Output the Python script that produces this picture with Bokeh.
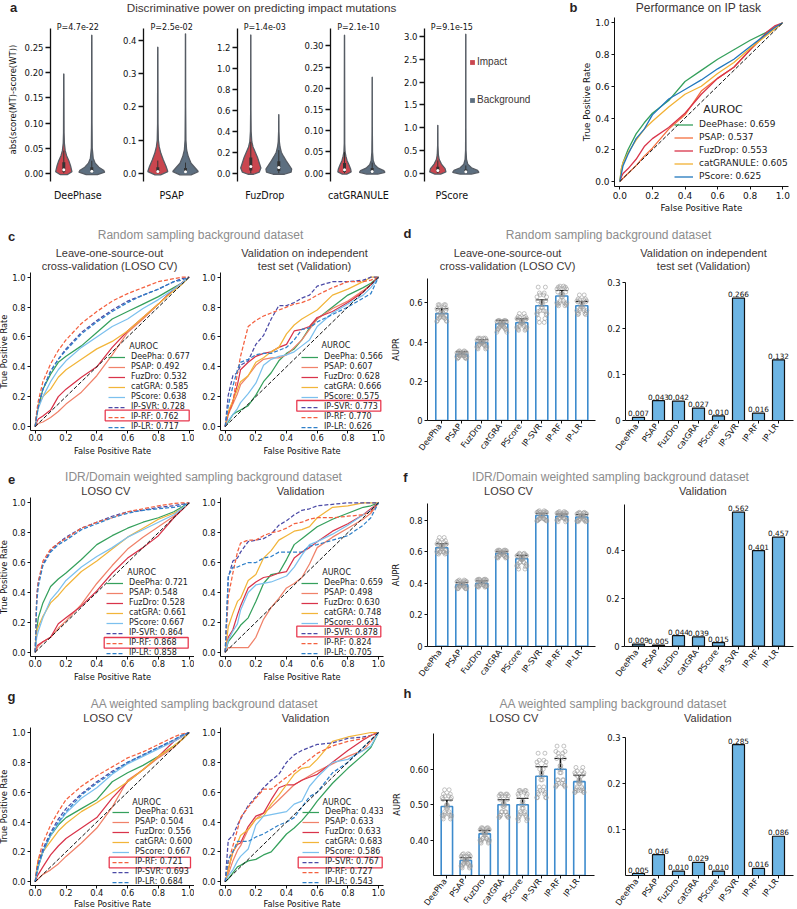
from math import pi
from bokeh.core.properties import value
from bokeh.embed import file_html
from bokeh.resources import INLINE
from bokeh.layouts import row, column
from bokeh.plotting import figure
from bokeh.models import (Range1d, FixedTicker, Label, LabelSet, Legend, LegendItem, BoxAnnotation,
                          ColumnDataSource, Whisker, TeeHead, LinearAxis)

# ---------------- DATA ----------------
VIOLIN_NAMES = ["DeePhase", "PSAP", "FuzDrop", "catGRANULE", "PScore"]
VIOLIN_P = ["P=4.7e-22", "P=2.5e-02", "P=1.4e-03", "P=2.1e-10", "P=9.1e-15"]
VIOLIN_TICKS = [[0, .05, .10, .15, .20, .25], [0, .1, .2, .3, .4], [0, .2, .4, .6, .8, 1.0, 1.2],
                [0, .05, .10, .15, .20, .25, .30], [0, .5, 1.0, 1.5, 2.0, 2.5, 3.0]]
VIOLIN_TICK_LABELS = [["0.00", "0.05", "0.10", "0.15", "0.20", "0.25"], ["0.0", "0.1", "0.2", "0.3", "0.4"],
                      ["0.0", "0.2", "0.4", "0.6", "0.8", "1.0", "1.2"],
                      ["0.00", "0.05", "0.10", "0.15", "0.20", "0.25", "0.30"],
                      ["0.0", "0.5", "1.0", "1.5", "2.0", "2.5", "3.0"]]
# y values / half widths of the violins (impact, background)
V1_IMP_Y = [-.003, .003, .015, .025, .035, .045, .06, .08, .198]
V1_IMP_W = [.12, .29, .24, .18, .10, .05, .02, .01, .004]
V1_BG_Y = [-.003, .002, .006, .012, .02, .03, .05, .1, .275]
V1_BG_W = [.2, .46, .42, .25, .12, .05, .015, .008, .004]
V2_IMP_Y = [-.005, .005, .02, .04, .06, .08, .1, .15, .38]
V2_IMP_W = [.1, .36, .3, .2, .11, .05, .02, .008, .004]
V2_BG_Y = [-.005, .005, .015, .03, .05, .07, .1, .2, .42]
V2_BG_W = [.2, .46, .36, .2, .1, .04, .015, .006, .003]
V3_IMP_Y = [-.01, .01, .05, .1, .15, .2, .25, .3, .4, .6, 1.32]
V3_IMP_W = [.1, .3, .36, .3, .24, .16, .08, .035, .012, .005, .003]
V3_BG_Y = [-.01, .01, .04, .08, .12, .16, .2, .25, .3, .4, .56]
V3_BG_W = [.2, .44, .46, .36, .26, .17, .09, .045, .02, .006, .003]
V4_IMP_Y = [-.002, .003, .01, .02, .03, .04, .05, .07, .325]
V4_IMP_W = [.08, .24, .22, .16, .09, .05, .02, .008, .003]
V4_BG_Y = [-.002, .002, .006, .012, .02, .03, .05, .1, .226]
V4_BG_W = [.2, .46, .42, .22, .09, .035, .012, .005, .003]
V5_IMP_Y = [-.02, .03, .1, .2, .3, .4, .6, 1.05]
V5_IMP_W = [.1, .29, .26, .13, .05, .02, .006, .003]
V5_BG_Y = [-.02, .02, .06, .12, .2, .3, .5, 1.0, 3.05]
V5_BG_W = [.2, .47, .42, .2, .07, .025, .008, .004, .003]
VIOLIN_PROFILES = [(V1_IMP_Y, V1_IMP_W, V1_BG_Y, V1_BG_W), (V2_IMP_Y, V2_IMP_W, V2_BG_Y, V2_BG_W),
                   (V3_IMP_Y, V3_IMP_W, V3_BG_Y, V3_BG_W), (V4_IMP_Y, V4_IMP_W, V4_BG_Y, V4_BG_W),
                   (V5_IMP_Y, V5_IMP_W, V5_BG_Y, V5_BG_W)]
# q1, median, q3, whisker (impact, background)
VIOLIN_BOX = [((.003, .007, .022, .045), (.002, .004, .012, .025)),
              ((.002, .005, .018, .038), (.001, .004, .016, .032)),
              ((.025, .065, .15, .3), (.02, .055, .115, .22)),
              ((.003, .008, .024, .05), (.001, .004, .012, .025)),
              ((.02, .06, .14, .28), (.01, .03, .08, .17))]

F = [0, .01, .02, .05, .1, .15, .2, .3, .4, .5, .6, .7, .8, .9, .95, 1]
B_NAMES = ["DeePhase: 0.659", "PSAP: 0.537", "FuzDrop: 0.553", "catGRANULE: 0.605", "PScore: 0.625"]
B_DEEPHASE = [0, .08, .12, .2, .3, .37, .43, .51, .63, .7, .77, .83, .89, .94, .97, 1]
B_PSAP = [0, .01, .02, .05, .1, .16, .21, .33, .42, .57, .65, .72, .83, .93, .97, 1]
B_FUZDROP = [0, .03, .05, .08, .14, .22, .27, .34, .43, .55, .65, .72, .83, .94, .98, 1]
B_CATGRANULE = [0, .08, .12, .18, .26, .33, .38, .47, .55, .6, .68, .75, .84, .92, .96, 1]
B_PSCORE = [0, .05, .1, .17, .27, .33, .42, .52, .58, .64, .71, .77, .85, .93, .97, 1]

C1_NAMES = ["DeePha: 0.677", "PSAP: 0.492", "FuzDro: 0.532", "catGRA: 0.585", "PScore: 0.638", "IP-SVR: 0.728", "IP-RF: 0.762", "IP-LR: 0.717"]
C1_DEEPHA = [0, .08, .13, .25, .35, .43, .47, .54, .63, .72, .77, .82, .87, .93, .96, 1]
C1_PSAP = [0, .01, .02, .03, .06, .10, .15, .23, .34, .48, .63, .72, .82, .92, .96, 1]
C1_FUZDRO = [0, .03, .05, .07, .11, .2, .25, .33, .40, .53, .64, .73, .82, .92, .96, 1]
C1_CATGRA = [0, .08, .14, .20, .25, .33, .38, .45, .52, .57, .64, .73, .82, .91, .95, 1]
C1_PSCORE = [0, .07, .12, .20, .30, .38, .44, .53, .60, .67, .72, .79, .85, .92, .96, 1]
C1_SVR = [0, .08, .14, .25, .37, .45, .52, .63, .71, .78, .84, .88, .92, .97, .99, 1]
C1_RF = [0, .1, .17, .3, .42, .51, .58, .69, .77, .84, .89, .93, .97, .99, 1, 1]
C1_LR = [0, .07, .13, .25, .37, .45, .51, .62, .7, .77, .83, .88, .92, .97, .98, 1]

E1_NAMES = ["DeePha: 0.721", "PSAP: 0.548", "FuzDro: 0.528", "catGRA: 0.661", "PScore: 0.667", "IP-SVR: 0.864", "IP-RF: 0.868", "IP-LR: 0.858"]
E1_DEEPHA = [0, .15, .23, .33, .44, .49, .53, .62, .72, .78, .83, .87, .9, .94, .97, 1]
E1_PSAP = [0, .02, .04, .07, .1, .16, .21, .32, .46, .58, .69, .77, .84, .91, .95, 1]
E1_FUZDRO = [0, .04, .05, .07, .1, .19, .23, .31, .41, .53, .63, .7, .78, .9, .95, 1]
E1_CATGRA = [0, .14, .17, .24, .33, .38, .44, .54, .61, .69, .77, .83, .89, .93, .96, 1]
E1_PSCORE = [0, .1, .14, .23, .35, .41, .48, .57, .64, .7, .77, .82, .87, .92, .96, 1]
E1_SVR = [0, .38, .47, .59, .68, .73, .77, .83, .87, .91, .94, .95, .97, .98, .99, 1]
E1_RF = [0, .37, .47, .61, .69, .73, .76, .83, .87, .9, .94, .96, .98, .995, 1, 1]
E1_LR = [0, .33, .44, .58, .67, .72, .75, .82, .86, .9, .93, .95, .96, .97, .98, 1]

G1_NAMES = ["DeePha: 0.631", "PSAP: 0.504", "FuzDro: 0.556", "catGRA: 0.600", "PScore: 0.667", "IP-RF: 0.721", "IP-SVR: 0.693", "IP-LR: 0.684"]
G1_DEEPHA = [0, .05, .1, .2, .31, .38, .43, .49, .55, .67, .73, .78, .84, .91, .95, 1]
G1_PSAP = [0, .01, .02, .05, .08, .12, .17, .26, .36, .5, .68, .75, .83, .9, .95, 1]
G1_FUZDRO = [0, .03, .05, .1, .18, .24, .29, .36, .43, .56, .67, .75, .84, .94, .97, 1]
G1_CATGRA = [0, .09, .15, .2, .27, .34, .39, .47, .53, .6, .67, .75, .84, .91, .95, 1]
G1_PSCORE = [0, .06, .1, .2, .31, .39, .46, .56, .63, .72, .79, .84, .89, .94, .97, 1]
G1_RF = [0, .09, .15, .26, .38, .47, .55, .64, .71, .77, .83, .87, .92, .97, .99, 1]
G1_SVR = [0, .07, .12, .22, .33, .42, .49, .59, .67, .74, .8, .85, .9, .95, .98, 1]
G1_LR = [0, .06, .11, .2, .32, .4, .47, .58, .66, .73, .8, .85, .9, .95, .98, 1]

V = [0, .02, .05, .08, .1, .15, .2, .25, .3, .35, .4, .45, .5, .55, .6, .7, .8, .9, .95, 1]
C2_NAMES = ["DeePha: 0.566", "PSAP: 0.607", "FuzDro: 0.628", "catGRA: 0.666", "PScore: 0.575", "IP-SVR: 0.773", "IP-RF: 0.770", "IP-LR: 0.626"]
C2_DEEPHA = [0, .03, .08, .10, .11, .14, .21, .30, .36, .44, .49, .52, .58, .66, .72, .80, .88, .93, .96, 1]
C2_PSAP = [0, .08, .15, .22, .28, .34, .41, .45, .46, .46, .48, .53, .58, .65, .72, .79, .84, .91, .95, 1]
C2_FUZDRO = [0, .09, .17, .28, .38, .43, .47, .49, .50, .53, .55, .64, .65, .67, .73, .77, .83, .90, .95, 1]
C2_CATGRA = [0, .10, .17, .25, .30, .34, .43, .46, .50, .53, .62, .68, .72, .75, .78, .88, .92, .97, 1, 1]
C2_PSCORE = [0, .04, .08, .12, .16, .22, .29, .41, .45, .47, .48, .50, .54, .58, .67, .76, .82, .88, .93, 1]
C2_SVR = [0, .21, .34, .36, .41, .44, .55, .61, .72, .81, .81, .83, .86, .88, .94, .97, .97, .98, 1, 1]
C2_RF = [0, .08, .16, .36, .47, .67, .71, .74, .76, .78, .80, .82, .83, .85, .88, .93, .97, .97, .98, 1]
C2_LR = [0, .14, .27, .38, .43, .45, .48, .49, .49, .51, .53, .58, .65, .66, .7, .75, .8, .86, .89, 1]

E2_NAMES = ["DeePha: 0.659", "PSAP: 0.498", "FuzDro: 0.630", "catGRA: 0.748", "PScore: 0.631", "IP-SVR: 0.878", "IP-RF: 0.824", "IP-LR: 0.705"]
E2_DEEPHA = [0, .07, .11, .15, .18, .23, .34, .46, .52, .53, .62, .72, .76, .80, .84, .89, .93, .97, .98, 1]
E2_PSAP = [0, .03, .03, .03, .03, .03, .1, .22, .3, .36, .43, .46, .5, .59, .7, .77, .83, .89, .93, 1]
E2_FUZDRO = [0, .1, .15, .25, .31, .43, .47, .5, .51, .53, .54, .63, .67, .7, .74, .81, .86, .92, .96, 1]
E2_CATGRA = [0, .17, .26, .34, .36, .48, .52, .63, .68, .75, .78, .81, .82, .84, .9, .97, .98, 1, 1, 1]
E2_PSCORE = [0, .08, .14, .19, .28, .4, .45, .46, .47, .49, .51, .57, .65, .72, .74, .79, .85, .92, .95, 1]
E2_SVR = [0, .5, .61, .63, .67, .74, .75, .76, .79, .85, .88, .92, .95, .96, .98, .99, 1, 1, 1, 1]
E2_RF = [0, .37, .53, .67, .73, .75, .75, .78, .8, .81, .83, .86, .87, .89, .9, .9, .91, .92, .94, 1]
E2_LR = [0, .51, .57, .57, .58, .6, .6, .63, .64, .67, .67, .67, .67, .71, .72, .75, .78, .85, .9, 1]

G2_NAMES = ["DeePha: 0.433", "PSAP: 0.633", "FuzDro: 0.633", "catGRA: 0.683", "PScore: 0.586", "IP-SVR: 0.767", "IP-RF: 0.727", "IP-LR: 0.543"]
G2_DEEPHA = [0, .02, .06, .1, .11, .14, .15, .18, .2, .26, .32, .36, .41, .47, .54, .66, .76, .85, .9, 1]
G2_PSAP = [0, .05, .14, .21, .24, .35, .42, .46, .5, .55, .6, .65, .68, .71, .74, .79, .84, .88, .94, 1]
G2_FUZDRO = [0, .08, .2, .25, .26, .37, .44, .46, .55, .63, .65, .65, .68, .7, .72, .8, .88, .95, .98, 1]
G2_CATGRA = [0, .08, .2, .26, .31, .35, .42, .44, .52, .58, .65, .72, .76, .77, .82, .94, .97, .99, 1, 1]
G2_PSCORE = [0, .04, .08, .14, .17, .22, .38, .44, .45, .46, .47, .52, .54, .64, .7, .8, .82, .88, .91, 1]
G2_SVR = [0, .28, .31, .38, .42, .51, .57, .63, .68, .72, .8, .85, .88, .9, .92, .93, .96, .97, .98, 1]
G2_RF = [0, .13, .24, .35, .43, .5, .56, .62, .62, .66, .7, .74, .78, .82, .86, .91, .94, .96, .98, 1]
G2_LR = [0, .15, .2, .27, .27, .27, .3, .32, .35, .38, .4, .43, .5, .57, .6, .73, .8, .9, .95, 1]

ROC_TICKS = [0, .2, .4, .6, .8, 1.0]
ROC_LABELS = ["0.0", "0.2", "0.4", "0.6", "0.8", "1.0"]

BAR_NAMES = ["DeePha", "PSAP", "FuzDro", "catGRA", "PScore", "IP-SVR", "IP-RF", "IP-LR"]
D_LOSO = [.545, .338, .397, .493, .498, .585, .635, .585]
D_LOSO_ERR = [.025, .012, .015, .018, .02, .03, .028, .022]
F_LOSO = [.625, .39, .4, .59, .555, .83, .825, .82]
F_LOSO_ERR = [.025, .015, .015, .012, .022, .014, .014, .016]
H_LOSO = [.495, .343, .418, .50, .50, .58, .60, .565]
H_LOSO_ERR = [.018, .008, .01, .014, .018, .027, .03, .018]
D_VAL = [.007, .043, .042, .027, .010, .266, .016, .132]
F_VAL = [.009, .005, .044, .039, .015, .562, .401, .457]
H_VAL = [.005, .046, .010, .029, .010, .285, .016, .086]
JITTER = [-.22, .18, -.08, .24, -.16, .05, .12, -.25, .2, -.03, -.12, .09, .02, -.19]
D_POINTS = [[.51, .59, .53, .57, .52, .55, .58, .505, .56, .54, .59, .525, .565, .535],
            [.315, .35, .33, .345, .32, .34, .355, .325, .34, .335, .33, .35, .345, .32],
            [.37, .42, .39, .41, .38, .40, .415, .375, .405, .395, .385, .42, .40, .365],
            [.46, .51, .48, .505, .47, .495, .51, .45, .50, .49, .475, .505, .485, .465],
            [.47, .53, .49, .52, .46, .50, .545, .475, .515, .495, .48, .525, .505, .465],
            [.54, .68, .56, .63, .52, .59, .65, .545, .61, .575, .50, .64, .60, .555],
            [.59, .68, .61, .67, .585, .64, .675, .60, .655, .63, .60, .685, .645, .595],
            [.55, .62, .57, .61, .545, .59, .64, .56, .605, .58, .56, .615, .60, .54]]
F_POINTS = [[.59, .67, .60, .65, .585, .63, .69, .60, .645, .62, .595, .66, .635, .61],
            [.365, .415, .38, .41, .37, .39, .42, .375, .405, .395, .38, .41, .395, .365],
            [.38, .425, .39, .42, .375, .40, .425, .385, .415, .405, .385, .42, .41, .38],
            [.565, .61, .58, .605, .57, .59, .61, .565, .60, .595, .575, .605, .59, .56],
            [.52, .58, .535, .575, .49, .555, .59, .51, .57, .55, .53, .585, .56, .505],
            [.80, .855, .81, .85, .805, .83, .86, .795, .845, .825, .81, .85, .835, .80],
            [.80, .85, .815, .845, .81, .825, .855, .80, .84, .83, .81, .845, .835, .79],
            [.795, .845, .81, .84, .80, .82, .85, .795, .835, .825, .80, .845, .83, .79]]
H_POINTS = [[.465, .53, .475, .52, .47, .495, .542, .47, .515, .49, .48, .525, .50, .46],
            [.325, .36, .335, .355, .33, .345, .362, .328, .35, .34, .335, .355, .345, .322],
            [.395, .435, .405, .43, .40, .42, .435, .40, .428, .415, .405, .432, .42, .392],
            [.465, .53, .48, .525, .47, .50, .53, .465, .515, .495, .48, .525, .505, .47],
            [.455, .54, .475, .53, .47, .50, .54, .46, .525, .49, .48, .535, .51, .465],
            [.52, .645, .54, .62, .53, .58, .625, .52, .61, .57, .55, .60, .59, .535],
            [.555, .665, .56, .65, .57, .60, .645, .55, .63, .59, .57, .635, .61, .555],
            [.535, .605, .54, .59, .545, .565, .595, .535, .585, .56, .55, .58, .57, .54]]

# ---------------- STYLE ----------------
SANS = "DejaVu Sans"
ARIAL = "Liberation Sans"
C_GREEN, C_SALMON, C_RED, C_YELLOW, C_SKY = "#35a05c", "#f0826a", "#d9344a", "#f2b53a", "#7cc0ee"
C_INDIGO, C_ORANGE, C_BLUE = "#4b4aa6", "#f4603f", "#2f80c9"
C_IMPACT, C_BACKGROUND = "#c9464f", "#5d6f80"
DASH = "4 2"
LEFT = -6
LABEL_SHIFT = -.1


def panel(rect, frame, xm, ym):
    x0, x1, y0, y1 = rect
    fl, fr, ft, fb = frame
    xs = (xm[2] - xm[0]) / (xm[3] - xm[1])
    ys = (ym[2] - ym[0]) / (ym[3] - ym[1])
    X = lambda px: xm[0] + (px - xm[1]) * xs
    Y = lambda py: ym[0] + (py - ym[1]) * ys
    p = figure(width=x1 - x0, height=y1 - y0, x_range=Range1d(X(fl), X(fr)), y_range=Range1d(Y(fb), Y(ft)),
               min_border_left=fl - x0, min_border_right=x1 - fr, min_border_top=ft - y0, min_border_bottom=y1 - fb,
               output_backend="svg", toolbar_location=None, tools="", outline_line_color=None, title=None,
               frame_align=False)
    p.grid.visible = False
    return p, X, Y


def axis_style(ax, ticks, labels, size="8.4px", tick=3, lw=1.0, label=None, label_size="8.3px", standoff=2, lstand=2):
    ax.ticker = FixedTicker(ticks=list(ticks))
    ax.major_label_overrides = dict(zip(ticks, labels))
    ax.minor_tick_line_color = None
    ax.major_tick_out = tick
    ax.major_tick_in = 0
    ax.major_tick_line_width = lw
    ax.axis_line_width = lw
    ax.axis_line_color = "#111111"
    ax.major_tick_line_color = "#111111"
    ax.major_label_text_font = SANS
    ax.major_label_text_font_size = size
    ax.major_label_text_color = "#111111"
    ax.major_label_standoff = standoff
    if label:
        ax.axis_label = label
        ax.axis_label_text_font = SANS
        ax.axis_label_text_font_size = label_size
        ax.axis_label_text_font_style = "normal"
        ax.axis_label_text_color = "#111111"
        ax.axis_label_standoff = lstand


def text(p, x, y, s, size="8px", font=SANS, color="#111111", align="center", style="normal"):
    p.add_layout(Label(x=x, y=y, text=s, text_font=font, text_font_size=size, text_color=color,
                       text_align=align, text_baseline="middle", text_font_style=style))


def strip(y0, y1, items):
    p = figure(width=797 - LEFT, height=y1 - y0, x_range=Range1d(LEFT, 797), y_range=Range1d(y1, y0),
               x_axis_type=None, y_axis_type=None, min_border=0, min_border_left=0, min_border_right=0,
               min_border_top=0, min_border_bottom=0, output_backend="svg", toolbar_location=None, tools="",
               outline_line_color=None, title=None, frame_align=False)
    p.grid.visible = False
    for it in items:
        text(p, *it)
    return p


def violin_panel(i, rect, frame, c0, c1, v_top_px, top_val):
    yi, wi, yb, wb = VIOLIN_PROFILES[i]
    p, X, Y = panel(rect, frame, (0, c0, 1, c1), (0, 172.7, top_val, v_top_px))
    fills = []
    for c, ys, ws, col, box in ((0, yi, wi, C_IMPACT, VIOLIN_BOX[i][0]), (1, yb, wb, C_BACKGROUND, VIOLIN_BOX[i][1])):
        xs = [c - w for w in ws] + [c + w for w in reversed(ws)]
        yy = list(ys) + list(reversed(ys))
        fills.append(p.patch(xs, yy, fill_color=col, line_color=None))
        p.patch(xs, yy, fill_color=None, line_color="#565c64", line_width=1.3)
        p.segment([c], [0], [c], [box[3]], line_color="#333333", line_width=1)
        p.segment([c], [box[0]], [c], [box[2]], line_color="#333333", line_width=3)
        p.scatter([c], [box[1]], size=3, fill_color="white", line_color=None)
    axis_style(p.yaxis[0], VIOLIN_TICKS[i], VIOLIN_TICK_LABELS[i], size="8.5px", tick=5, lw=1.3,
               label="abs(score(MT)-score(WT))" if i == 0 else None, label_size="8.5px", lstand=4)
    p.yaxis[0].bounds = (Y(180.7), Y(27.7))
    ax = p.xaxis[0]
    axis_style(ax, [.5], [VIOLIN_NAMES[i]], size="9.6px", tick=0, standoff=8)
    ax.axis_line_color = None
    ax.major_tick_line_color = None
    text(p, X((c0 + c1) / 2), Y(27.3), VIOLIN_P[i])
    return p, fills


def roc_panel(rect, frame, x0px, x1px, y1px, y0px, xs, tprs, colors, dashes, names, lg_x, lg_y, title_at, box=None,
              lw=1.25, ylabel=True, glyph_w=17, lab_size="8px", tick_size="8.4px", lab_h=8, spacing=1, title_size="8px",
              ax_lab="8.3px", x_standoff=0, x_lstand=2):
    p, X, Y = panel(rect, frame, (0, x0px, 1, x1px), (0, y0px, 1, y1px))
    items = []
    for t, c, d, n in zip(tprs, colors, dashes, names):
        r = p.line(xs, t, line_color=c, line_width=lw, line_dash=d)
        items.append(LegendItem(label=n, renderers=[r]))
    p.line([0, 1], [0, 1], line_color="#111111", line_width=1.0, line_dash=DASH)
    lg = Legend(items=items, location=(lg_x, lg_y), orientation="vertical", label_text_font=SANS,
                label_text_font_size=lab_size, label_text_color="#222222", label_height=lab_h, glyph_height=lab_h,
                glyph_width=glyph_w, label_standoff=6, spacing=spacing, padding=0, margin=0, border_line_color=None,
                background_fill_alpha=0)
    p.add_layout(lg)
    text(p, X(title_at[0]), Y(title_at[1]), "AUROC", size=title_size, align="left", color="#222222")
    if box:
        p.add_layout(BoxAnnotation(left=X(box[0]), right=X(box[1]), top=Y(box[2]), bottom=Y(box[3]), fill_alpha=0,
                                   line_color="#e8394f", line_width=1.3, line_alpha=1))
    axis_style(p.xaxis[0], ROC_TICKS, ROC_LABELS, label="False Positive Rate", size=tick_size, label_size=ax_lab,
               standoff=x_standoff, lstand=x_lstand)
    axis_style(p.yaxis[0], ROC_TICKS, ROC_LABELS, label="True Positive Rate" if ylabel else None, size=tick_size,
               label_size=ax_lab, lstand=0)
    return p


def category_axis(p, idx):
    axis_style(p.xaxis[0], idx, [""] * len(idx), size="8px", standoff=0)
    names = LinearAxis(ticker=FixedTicker(ticks=[i + LABEL_SHIFT for i in idx]),
                       major_label_overrides={i + LABEL_SHIFT: n for i, n in zip(idx, BAR_NAMES)},
                       axis_line_color=None, major_tick_line_color=None, minor_tick_line_color=None,
                       major_tick_out=0, major_tick_in=0, major_label_text_font=SANS, major_label_text_font_size="8.2px",
                       major_label_text_color="#111111", major_label_standoff=1, major_label_orientation=52 * pi / 180)
    p.add_layout(names, "below")


def loso_panel(rect, frame, xm, ym, bottom, means, errs, points, ticks, tick_labels):
    p, X, Y = panel(rect, frame, xm, ym)
    idx = list(range(len(means)))
    p.vbar(idx, .6, means, bottom, fill_color="white", line_color="#3d8bcd", line_width=1.6)
    px, py = [], []
    for i, vals in enumerate(points):
        px += [i + j for j in JITTER] + [i - j for j in JITTER]
        py += vals + vals
    p.scatter(px, py, size=4, fill_color=None, line_color="#9a9a9a", line_width=.6)
    src = ColumnDataSource(dict(x=idx, up=[m + e for m, e in zip(means, errs)], lo=[m - e for m, e in zip(means, errs)]))
    head = dict(size=12, line_color="#111111", line_width=1)
    p.add_layout(Whisker(base="x", upper="up", lower="lo", source=src, line_color="#111111", line_width=1.6,
                         upper_head=TeeHead(**head), lower_head=TeeHead(**head)))
    axis_style(p.yaxis[0], ticks, tick_labels, label="AUPR", lstand=5)
    category_axis(p, idx)
    return p


def val_panel(rect, frame, xm, ym, vals, ticks, tick_labels):
    p, X, Y = panel(rect, frame, xm, ym)
    idx = list(range(len(vals)))
    src = ColumnDataSource(dict(x=idx, top=vals, txt=[f"{v:.3f}" for v in vals]))
    p.vbar("x", .6, "top", 0, source=src, fill_color="#6db5e4", line_color="#111111", line_width=1.2)
    p.add_layout(LabelSet(x="x", y="top", text="txt", source=src, text_align="center", text_baseline="bottom",
                          text_font=value(SANS), text_font_size=value("7.3px"), text_color="#111111", y_offset=1))
    axis_style(p.yaxis[0], ticks, tick_labels)
    category_axis(p, idx)
    return p


# ---------------- PANELS ----------------
HEAD = "#8c8c8c"
DARK = "#3c3535"
strip0 = strip(0, 15, [(13, 7, "a", "13px", ARIAL, "#2a1f1f", "center", "bold"),
                       (261, 7, "Discriminative power on predicting impact mutations", "11.7px", ARIAL, DARK),
                       (573, 7, "b", "13px", ARIAL, "#2a1f1f", "center", "bold"),
                       (698, 7, "Performance on IP task", "12px", ARIAL, DARK)])
R1 = (15, 216)
vp1, _ = violin_panel(0, (LEFT, 115) + R1, (50, 115, 17, 181), 63.3, 91.3, 47.3, .25)
vp2, _ = violin_panel(1, (115, 208) + R1, (143, 208, 17, 181), 157.3, 185, 40, .4)
vp3, _ = violin_panel(2, (208, 300) + R1, (237, 300, 17, 181), 250.3, 278.3, 47, 1.2)
vp4, _ = violin_panel(3, (300, 395) + R1, (330, 395, 17, 181), 344, 371.7, 45.3, .30)
vp5, fills5 = violin_panel(4, (395, 575) + R1, (424, 575, 17, 181), 437.3, 465.3, 36, 3.0)
vp5.add_layout(Legend(items=[LegendItem(label="Impact", renderers=[fills5[0]]), LegendItem(label="Background", renderers=[fills5[1]])],
                      location=(45, 76), label_text_font=ARIAL, label_text_font_size="10px", label_text_color=DARK,
                      glyph_width=6, glyph_height=6, label_height=10, spacing=27, label_standoff=2, padding=0, margin=0,
                      border_line_color=None, background_fill_alpha=0))
bp = roc_panel((575, 797) + R1, (614, 788, 17, 186), 619.3, 782.3, 22.3, 181, F,
               [B_DEEPHASE, B_PSAP, B_FUZDROP, B_CATGRANULE, B_PSCORE],
               ["#35a05c", "#f4703f", "#d9344a", "#f2b134", "#2177bd"], ["solid"] * 5, B_NAMES,
               60, 5, (702.7, 109), glyph_w=19, lab_size="9px", tick_size="9px", lab_h=9, spacing=3, title_size="11px",
               lw=1.3, ax_lab="8.8px", x_standoff=2, x_lstand=1)

strip1 = strip(216, 272, [(11, 235.5, "c", "13px", ARIAL, "#2a1f1f", "center", "bold"),
                          (200, 234, "Random sampling background dataset", "12px", ARIAL, HEAD),
                          (109, 252.3, "Leave-one-source-out", "11px", ARIAL, DARK),
                          (109, 265.3, "cross-validation (LOSO CV)", "11px", ARIAL, DARK),
                          (304, 252.3, "Validation on independent", "11px", ARIAL, DARK),
                          (304, 265.3, "test set (Validation)", "11px", ARIAL, DARK),
                          (407, 233, "d", "13px", ARIAL, "#2a1f1f", "center", "bold"),
                          (608, 234, "Random sampling background dataset", "12px", ARIAL, HEAD),
                          (507, 252.3, "Leave-one-source-out", "11px", ARIAL, DARK),
                          (507, 265.3, "cross-validation (LOSO CV)", "11px", ARIAL, DARK),
                          (703, 252.3, "Validation on independent", "11px", ARIAL, DARK),
                          (703, 265.3, "test set (Validation)", "11px", ARIAL, DARK)])
R2 = (272, 462)
SOL5 = ["solid"] * 5 + [DASH] * 3
COLS = [C_GREEN, C_SALMON, C_RED, C_YELLOW, C_SKY, C_INDIGO, C_ORANGE, C_BLUE]
COLS_G = [C_GREEN, C_SALMON, C_RED, C_YELLOW, C_SKY, C_ORANGE, C_INDIGO, C_BLUE]
cL = roc_panel((LEFT, 194) + R2, (30, 194, 272, 430), 34.7, 188.7, 276.7, 426, F,
               [C1_DEEPHA, C1_PSAP, C1_FUZDRO, C1_CATGRA, C1_PSCORE, C1_SVR, C1_RF, C1_LR], COLS, SOL5, C1_NAMES,
               78, -1, (128.7, 345.7), (104.7, 188.7, 409.7, 420.3))
cR = roc_panel((194, 388) + R2, (220, 383, 272, 430), 224.7, 378, 276.7, 426, V,
               [C2_DEEPHA, C2_PSAP, C2_FUZDRO, C2_CATGRA, C2_PSCORE, C2_SVR, C2_RF, C2_LR], COLS, SOL5, C2_NAMES,
               81, -1, (321, 345), (296.3, 380.3, 400, 410.7), ylabel=False)
dL = loso_panel((388, 598) + R2, (427, 595, 278, 420), (0, 441.3, 7, 581.3), (0, 420, .6, 302.3), 0, D_LOSO, D_LOSO_ERR,
                D_POINTS, [0, .2, .4, .6], ["0", "0.2", "0.4", "0.6"])
dR = val_panel((598, 797) + R2, (625, 793, 282, 420), (0, 638, 7, 778), (0, 420, .3, 282), D_VAL,
               [0, .1, .2, .3], ["0", "0.1", "0.2", "0.3"])

strip2 = strip(462, 496, [(11, 479, "e", "13px", ARIAL, "#2a1f1f", "center", "bold"),
                          (203, 476.7, "IDR/Domain weighted sampling background dataset", "12px", ARIAL, HEAD),
                          (105.3, 490, "LOSO CV", "11px", ARIAL, DARK),
                          (300, 490, "Validation", "11px", ARIAL, DARK),
                          (405, 477, "f", "13px", ARIAL, "#2a1f1f", "center", "bold"),
                          (610, 476.7, "IDR/Domain weighted sampling background dataset", "12px", ARIAL, HEAD),
                          (508, 490, "LOSO CV", "11px", ARIAL, DARK),
                          (702.3, 490, "Validation", "11px", ARIAL, DARK)])
R3 = (496, 686)
eL = roc_panel((LEFT, 194) + R3, (30, 194, 497, 656), 34.7, 188.7, 502.3, 651.7, F,
               [E1_DEEPHA, E1_PSAP, E1_FUZDRO, E1_CATGRA, E1_PSCORE, E1_SVR, E1_RF, E1_LR], COLS, SOL5, E1_NAMES,
               76, -1, (126.7, 572.3), (103.7, 187.7, 637, 647.7))
eR = roc_panel((194, 388) + R3, (220, 383, 497, 656), 224.7, 378, 502.3, 651.7, V,
               [E2_DEEPHA, E2_PSAP, E2_FUZDRO, E2_CATGRA, E2_PSCORE, E2_SVR, E2_RF, E2_LR], COLS, SOL5, E2_NAMES,
               81, -1, (321.7, 572.3), (296.3, 380.3, 625.7, 636.3), ylabel=False)
fL = loso_panel((388, 598) + R3, (427, 595, 503, 646), (0, 441.3, 7, 581.3), (0, 645.7, .8, 519.7), 0, F_LOSO, F_LOSO_ERR,
                F_POINTS, [0, .2, .4, .6, .8], ["0", "0.2", "0.4", "0.6", "0.8"])
fR = val_panel((598, 797) + R3, (624, 793, 504, 646), (0, 638, 7, 778), (0, 645.7, .4, 550.3), F_VAL,
               [0, .2, .4], ["0", "0.2", "0.4"])

strip3 = strip(686, 726, [(11, 695.7, "g", "13px", ARIAL, "#2a1f1f", "center", "bold"),
                          (204, 703.3, "AA weighted sampling background dataset", "12px", ARIAL, HEAD),
                          (107.3, 717.7, "LOSO CV", "11px", ARIAL, DARK),
                          (305, 717.7, "Validation", "11px", ARIAL, DARK),
                          (407, 693, "h", "13px", ARIAL, "#2a1f1f", "center", "bold"),
                          (612.7, 703.3, "AA weighted sampling background dataset", "12px", ARIAL, HEAD),
                          (513.3, 717.7, "LOSO CV", "11px", ARIAL, DARK),
                          (707.3, 717.7, "Validation", "11px", ARIAL, DARK)])
R4 = (726, 925)
gL = roc_panel((LEFT, 194) + R4, (30, 194, 727, 885), 34.7, 188.7, 732, 881.3, F,
               [G1_DEEPHA, G1_PSAP, G1_FUZDRO, G1_CATGRA, G1_PSCORE, G1_RF, G1_SVR, G1_LR], COLS_G, SOL5, G1_NAMES,
               82, -1, (131.7, 802.3), (108.7, 190, 856.7, 867.3), x_lstand=0)
gR = roc_panel((194, 388) + R4, (220, 383, 727, 885), 224.7, 378, 732, 881.3, V,
               [G2_DEEPHA, G2_PSAP, G2_FUZDRO, G2_CATGRA, G2_PSCORE, G2_SVR, G2_RF, G2_LR], COLS, SOL5, G2_NAMES,
               82, -1, (322, 802.3), (297.7, 381.7, 856.7, 867.3), ylabel=False, x_lstand=0)
hL = loso_panel((388, 598) + R4, (429, 594, 733, 875), (0, 442.7, 7, 578.5), (.30, 875.3, .60, 768.7), .30, H_LOSO, H_LOSO_ERR,
                H_POINTS, [.3, .4, .5, .6], ["0.30", "0.40", "0.50", "0.60"])
hR = val_panel((598, 797) + R4, (625, 793, 737, 875), (0, 638, 7, 778), (0, 875.3, .3, 737.3), H_VAL,
               [0, .1, .2, .3], ["0", "0.1", "0.2", "0.3"])

root = column(strip0,
              row(vp1, vp2, vp3, vp4, vp5, bp, spacing=0),
              strip1,
              row(cL, cR, dL, dR, spacing=0),
              strip2,
              row(eL, eR, fL, fR, spacing=0),
              strip3,
              row(gL, gR, hL, hR, spacing=0),
              spacing=0, styles={"position": "absolute", "left": f"{LEFT}px", "top": "0px", "height": "909px", "overflow": "hidden"})
p = root
open("out.html", "w").write(file_html(p, INLINE))
